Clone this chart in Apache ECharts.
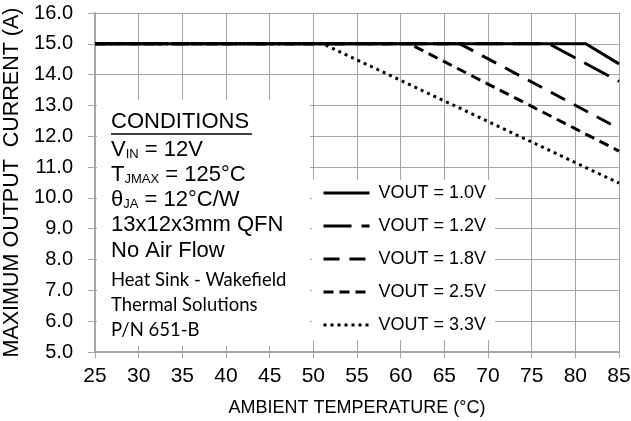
<!DOCTYPE html>
<html>
<head>
<meta charset="utf-8">
<script src="https://cdn.jsdelivr.net/npm/echarts@6/dist/echarts.min.js"></script>
<style>
  html, body { margin: 0; padding: 0; background: #fff; }
  #chart { width: 631px; height: 421px; }
</style>
</head>
<body>
<div id="chart"></div>
<script>
// derating curves, [ambient °C, max current A]
const vout10 = [[25, 15], [81.2, 15], [85, 14.35]]
const vout12 = [[25, 15], [77, 15], [85, 13.78]]
const vout18 = [[25, 15], [66.8, 15], [85, 12.25]]
const vout25 = [[25, 15], [61, 15], [85, 11.52]]
const vout33 = [[25, 15], [51.1, 15], [85, 10.48]]

const seriesNames = ['VOUT = 1.0V', 'VOUT = 1.2V', 'VOUT = 1.8V', 'VOUT = 2.5V', 'VOUT = 3.3V']
const dashTypes = ['solid', [28, 10], [16, 10], [10, 6], [3, 4]]

const conditions = [
  'CONDITIONS',
  'V{sub|IN} = 12V',
  'T{sub|JMAX} = 125°C',
  'θ{sub|JA} = 12°C/W',
  '13x12x3mm QFN',
  'No Air Flow',
  '{sm|Heat Sink - Wakefield}',
  '{sm|Thermal Solutions}',
  '{sm|P/N 651-B}',
]

const font = 'Liberation Sans, Arial, sans-serif'
const gridGray = '#a6a6a6'

const chart = echarts.init(document.getElementById('chart'))

const seriesData = [vout10, vout12, vout18, vout25, vout33]
const series = seriesData.map((d, i) => ({
  name: seriesNames[i],
  type: 'line',
  symbol: 'none',
  data: d,
  lineStyle: { color: '#000', width: 3, type: dashTypes[i] },
  itemStyle: { color: '#000' },
  z: 3,
}))

// vertical centres of the text rows in the conditions box
const condLineY = [122, 150, 175, 200, 225, 251, 280, 305, 330]

const option = {
  animation: false,
  backgroundColor: '#fff',
  grid: { left: 95, right: 12, top: 13, bottom: 69, outerBoundsMode: 'none', containLabel: false },
  xAxis: {
    type: 'value',
    min: 25,
    max: 85,
    interval: 5,
    name: 'AMBIENT TEMPERATURE (°C)',
    nameLocation: 'middle',
    nameGap: 47,
    nameTextStyle: { color: '#000', fontSize: 18, fontFamily: font },
    axisLine: { lineStyle: { color: gridGray, width: 2 } },
    axisTick: { show: true, length: 6, lineStyle: { color: gridGray } },
    axisLabel: { color: '#000', fontSize: 21, fontFamily: font, margin: 14 },
    splitLine: { show: true, lineStyle: { color: gridGray, width: 1 } },
  },
  yAxis: {
    type: 'value',
    min: 5,
    max: 16,
    interval: 1,
    name: 'MAXIMUM OUTPUT  CURRENT (A)',
    nameLocation: 'middle',
    nameGap: 66,
    nameTextStyle: { color: '#000', fontSize: 21.5, fontFamily: font },
    axisLine: { show: true, lineStyle: { color: gridGray, width: 2 } },
    axisTick: { show: true, length: 7, lineStyle: { color: gridGray } },
    axisLabel: {
      color: '#000',
      fontSize: 20,
      fontFamily: font,
      margin: 22,
      formatter: (v) => v.toFixed(1),
    },
    splitLine: { show: true, lineStyle: { color: gridGray, width: 1 } },
  },
  legend: {
    orient: 'vertical',
    left: 312,
    top: 180,
    itemWidth: 46,
    itemHeight: 18,
    itemGap: 15,
    padding: [4, 9, 6, 10],
    backgroundColor: '#fff',
    data: seriesNames,
    itemStyle: { opacity: 0 },
    lineStyle: { width: 3 },
    textStyle: { color: '#000', fontSize: 18, fontFamily: font, padding: [0, 0, 0, 4] },
  },
  graphic: [
    {
      type: 'rect',
      z: 50,
      shape: { x: 97, y: 100, width: 213, height: 246 },
      style: { fill: '#fff' },
    },
    {
      type: 'line',
      z: 51,
      shape: { x1: 111, y1: 134, x2: 252, y2: 134 },
      style: { stroke: '#000', lineWidth: 1.3 },
    },
  ].concat(conditions.map((t, i) => ({
    type: 'text',
    z: 51,
    x: 111,
    y: condLineY[i],
    style: {
      text: t,
      fill: '#000',
      font: '22px ' + font,
      verticalAlign: 'middle',
      rich: {
        sub: { fontSize: 13, fontFamily: font, verticalAlign: 'bottom' },
        sm: { fontSize: 18.5, fontFamily: 'Lato, sans-serif' },
      },
    },
  }))),
  series,
}

chart.setOption(option)
</script>
</body>
</html>
